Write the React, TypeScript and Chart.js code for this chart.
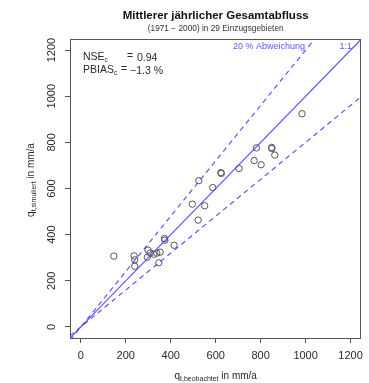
import React, { useEffect, useRef } from "react";
import { Chart, registerables } from "chart.js";

Chart.register(...registerables);

// ---- data ----
const OBSERVED = [147, 237, 240, 240, 299, 309, 296, 325, 338, 353, 347, 372, 374, 415, 496, 522, 525, 551, 587, 623, 625, 704, 781, 771, 802, 849, 850, 863, 984];
const SIMULATED = [307, 308, 291, 263, 333, 320, 302, 315, 320, 324, 278, 383, 376, 354, 532, 463, 634, 525, 604, 669, 665, 687, 776, 721, 703, 778, 773, 745, 924];
const TICKS = [0, 200, 400, 600, 800, 1000, 1200];
const AXIS_MIN = -48;
const AXIS_MAX = 1248;
const REF_RATIOS = [1, 1.2, 0.8];
const REF_DASHED = [false, true, true];

const TITLE = "Mittlerer jährlicher Gesamtabfluss";
const SUBTITLE = "(1971 − 2000) in 29 Einzugsgebieten";
const NSE_VALUE = "0.94";
const PBIAS_VALUE = "−1.3 %";
const DEV_LABEL = "20 % Abweichung";
const ONE_LABEL = "1:1";
const X_TITLE = ["q", "t,beobachtet", " in mm/a"];
const Y_TITLE = ["q", "t,simuliert", " in mm/a"];

const FONT = "'Liberation Sans', Arial, Helvetica, sans-serif";
const AXIS_COLOR = "#555555";
const TEXT_COLOR = "#2a2a2a";
const BLUE = "rgba(70,70,255,0.9)";

function drawSub(ctx: CanvasRenderingContext2D, parts: string[], size: number, subSize: number, cx: number, cy: number, color: string) {
  ctx.fillStyle = color;
  ctx.textBaseline = "alphabetic";
  ctx.textAlign = "left";
  ctx.font = `${size}px ${FONT}`;
  const w0 = ctx.measureText(parts[0]).width;
  const w2 = ctx.measureText(parts[2]).width;
  ctx.font = `${subSize}px ${FONT}`;
  const w1 = ctx.measureText(parts[1]).width;
  const total = w0 + w1 + w2;
  let x = cx - total / 2;
  const base = cy + size * 0.35;
  ctx.font = `${size}px ${FONT}`;
  ctx.fillText(parts[0], x, base);
  x += w0;
  ctx.font = `${subSize}px ${FONT}`;
  ctx.fillText(parts[1], x, base + size * 0.25);
  x += w1;
  ctx.font = `${size}px ${FONT}`;
  ctx.fillText(parts[2], x, base);
}

const decorPlugin = {
  id: "decor",
  afterDraw(chart: any) {
    const { ctx, chartArea } = chart;
    const yScale = chart.scales.y;
    const cxPlot = (chartArea.left + chartArea.right) / 2;
    ctx.save();
    // box
    ctx.strokeStyle = AXIS_COLOR;
    ctx.lineWidth = 1;
    ctx.strokeRect(Math.round(chartArea.left) + 0.5, Math.round(chartArea.top) + 0.5,
      Math.round(chartArea.right - chartArea.left) - 1, Math.round(chartArea.bottom - chartArea.top));

    // y tick labels rotated
    ctx.fillStyle = TEXT_COLOR;
    ctx.font = `11px ${FONT}`;
    ctx.textAlign = "center";
    ctx.textBaseline = "middle";
    yScale.ticks.forEach((t: any) => {
      const py = yScale.getPixelForValue(t.value);
      ctx.save();
      ctx.translate(chartArea.left - 18.5, py);
      ctx.rotate(-Math.PI / 2);
      ctx.fillText(String(t.value), 0, 0);
      ctx.restore();
    });

    // titles
    ctx.fillStyle = "#111111";
    ctx.font = `bold 11.5px ${FONT}`;
    ctx.textAlign = "center";
    ctx.textBaseline = "middle";
    ctx.fillText(TITLE, cxPlot, 16);
    ctx.font = `8.3px ${FONT}`;
    ctx.fillStyle = "#333333";
    ctx.fillText(SUBTITLE, cxPlot, 28.5);

    // annotations
    ctx.fillStyle = TEXT_COLOR;
    ctx.textAlign = "left";
    ctx.textBaseline = "alphabetic";
    const ax = chartArea.left + 13;
    ctx.font = `10.5px ${FONT}`;
    ctx.fillText("NSE", ax, 60);
    let w = ctx.measureText("NSE").width;
    ctx.font = `6.5px ${FONT}`;
    ctx.fillText("c", ax + w, 62);
    ctx.font = `10.5px ${FONT}`;
    ctx.fillText("=", ax + 44, 59);
    ctx.fillText(NSE_VALUE, ax + 54, 61);
    ctx.fillText("PBIAS", ax, 73);
    w = ctx.measureText("PBIAS").width;
    ctx.font = `6.5px ${FONT}`;
    ctx.fillText("c", ax + w, 75);
    ctx.font = `10.5px ${FONT}`;
    ctx.fillText("=", ax + 38, 72);
    ctx.fillText(PBIAS_VALUE, ax + 47, 74);

    ctx.fillStyle = BLUE;
    ctx.font = `9px ${FONT}`;
    ctx.textAlign = "right";
    ctx.fillText(DEV_LABEL, 305, 49);
    ctx.fillText(ONE_LABEL, 352, 49);

    // axis titles
    drawSub(ctx, X_TITLE, 10, 7, cxPlot, 375, TEXT_COLOR);
    ctx.save();
    ctx.translate(30, 180);
    ctx.rotate(-Math.PI / 2);
    drawSub(ctx, Y_TITLE, 10, 7, 0, 0, TEXT_COLOR);
    ctx.restore();

    ctx.restore();
  },
};

export default function App() {
  const ref = useRef<HTMLCanvasElement | null>(null);
  useEffect(() => {
    if (!ref.current) return;
    const points = OBSERVED.map((x, i) => ({ x, y: SIMULATED[i] }));
    const lineSets = REF_RATIOS.map((r, i) => ({
      type: "line" as const,
      data: [
        { x: AXIS_MIN, y: AXIS_MIN * r },
        { x: AXIS_MAX, y: AXIS_MAX * r },
      ],
      borderColor: BLUE,
      borderWidth: 1.2,
      borderDash: REF_DASHED[i] ? [5, 4] : [],
      pointRadius: 0,
      fill: false,
      showLine: true,
    }));
    const chart = new Chart(ref.current, {
      type: "scatter",
      data: {
        datasets: [
          ...lineSets,
          {
            type: "scatter" as const,
            data: points,
            pointRadius: 3.2,
            pointBorderWidth: 1,
            pointBorderColor: "#555555",
            pointBackgroundColor: "rgba(0,0,0,0)",
          },
        ] as any,
      },
      options: {
        animation: false,
        responsive: true,
        maintainAspectRatio: false,
        layout: { padding: { left: 0, top: 39, right: 1, bottom: 0 } },
        plugins: { legend: { display: false }, tooltip: { enabled: false } },
        scales: {
          x: {
            type: "linear",
            min: AXIS_MIN,
            max: AXIS_MAX,
            afterBuildTicks: (s: any) => { s.ticks = TICKS.map((v) => ({ value: v })); },
            afterFit: (s: any) => { s.height = 45; },
            grid: { drawOnChartArea: false, drawTicks: true, tickLength: 5, color: AXIS_COLOR },
            border: { display: false },
            ticks: {
              color: TEXT_COLOR,
              font: { size: 11, family: FONT },
              padding: 6,
              maxRotation: 0,
              minRotation: 0,
              callback: (v: any) => String(v),
            },
          },
          y: {
            type: "linear",
            min: AXIS_MIN,
            max: AXIS_MAX,
            afterBuildTicks: (s: any) => { s.ticks = TICKS.map((v) => ({ value: v })); },
            afterFit: (s: any) => { s.width = 70; },
            grid: { drawOnChartArea: false, drawTicks: true, tickLength: 5, color: AXIS_COLOR },
            border: { display: false },
            ticks: { display: false },
          },
        },
      } as any,
      plugins: [decorPlugin],
    });
    return () => chart.destroy();
  }, []);
  return (
    <div style={{ position: "fixed", left: 0, top: 0, width: 369, height: 383, background: "#ffffff" }}>
      <canvas ref={ref} />
    </div>
  );
}
